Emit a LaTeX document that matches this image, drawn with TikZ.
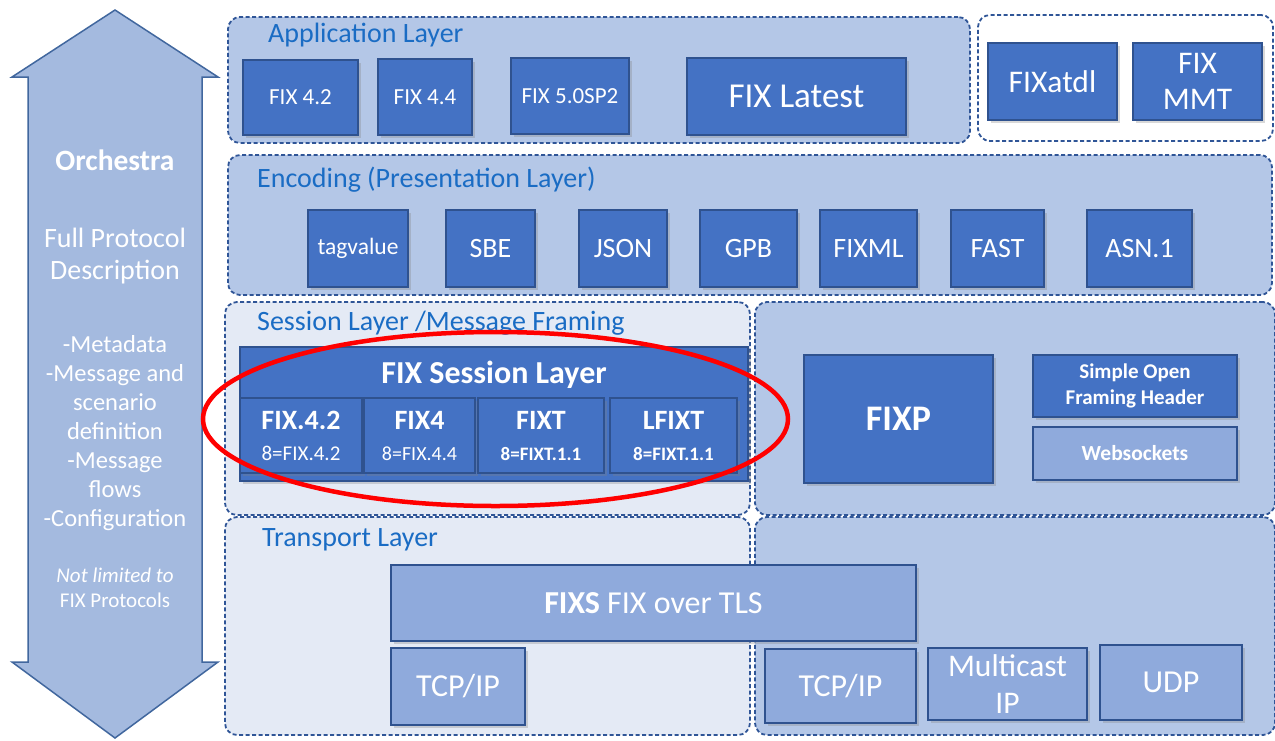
\documentclass[tikz,border=0pt]{standalone}
\usepackage{fontspec}
\setmainfont{Carlito}
\usetikzlibrary{shadows}
\usetikzlibrary{positioning}

\definecolor{boxblue}{HTML}{4472C4}
\definecolor{boxedge}{HTML}{2F528F}
\definecolor{lightbox}{HTML}{8FAADC}
\definecolor{layerfill}{HTML}{B4C7E7}
\definecolor{palefill}{HTML}{E4EAF5}
\definecolor{dashblue}{HTML}{2F5597}
\definecolor{labelblue}{HTML}{1A6CC4}
\definecolor{arrowfill}{HTML}{A4BADF}
\definecolor{arrowedge}{HTML}{41679E}

\tikzset{
	fs/.style 2 args={font=\fontsize{#1}{#2}\selectfont},
	layer/.style={draw=dashblue,dash pattern=on 4pt off 2.5pt,line width=1.8pt,rounded corners=12pt,fill=layerfill,inner sep=0pt},
	palelayer/.style={layer,fill=palefill},
	layerlabel/.style={anchor=west,text=labelblue,fs={28}{32},inner sep=0pt},
	fixbox/.style={draw=boxedge,line width=1.2pt,fill=boxblue,text=white,align=center,inner sep=0pt,
		drop shadow={shadow xshift=2.5pt,shadow yshift=-2.5pt,opacity=0.3}},
	litebox/.style={fixbox,fill=lightbox},
	orchtext/.style={text=white,align=center,inner sep=0pt}
}

\begin{document}
\begin{tikzpicture}[x=1pt,y=-1pt]
	\useasboundingbox (0,0) rectangle (1275,740);
	% orchestra arrow
	\draw[fill=arrowfill,draw=arrowedge,line width=1.5pt,line join=miter]
		(115,10) -- (218,77) -- (202,77) -- (202,662) -- (218,662) -- (115,738)
		-- (12,662) -- (28,662) -- (28,77) -- (12,77) -- cycle;
	\draw (115,160) node (orch) [orchtext,fs={29.5}{34}] {\textbf{Orchestra}};
	\draw (115,256) node (fulldesc) [orchtext,fs={28}{32}] {Full Protocol\\Description};
	\draw (115,433) node (details) [orchtext,fs={24.5}{29}] {-Metadata\\-Message and\\scenario\\definition\\-Message\\flows\\-Configuration};
	\draw (115,588) node (notfix) [orchtext,fs={21}{25}] {\itshape Not limited to\\FIX Protocols};

	% layer backgrounds
	\draw (599,80) node (applayer) [layer,minimum width=742pt,minimum height=126pt] {};
	\draw (1125.5,78) node (toolbox) [layer,fill=white,minimum width=295pt,minimum height=126pt] {};
	\draw (750,225) node (enclayer) [layer,minimum width=1044pt,minimum height=140pt] {};
	\draw (1015,408.5) node (fixpzone) [layer,minimum width=520pt,minimum height=213pt] {};
	\draw (1015,626) node (netzone) [layer,minimum width=520pt,minimum height=218pt] {};
	\draw (487.5,408.5) node (sesslayer) [palelayer,minimum width=525pt,minimum height=213pt] {};
	\draw (487.5,626) node (translayer) [palelayer,minimum width=525pt,minimum height=218pt] {};

	\node (applabel) [layerlabel] at (268,35) {Application Layer};
	\node (enclabel) [layerlabel] at (257,180) {Encoding (Presentation Layer)};
	\node (sesslabel) [layerlabel] at (257,323) {Session Layer /Message Framing};
	\node (translabel) [layerlabel] at (262,540) {Transport Layer};

	% application layer
	\draw (300.5,97.5) node (fix42) [fixbox,fs={23}{26},minimum width=115pt,minimum height=75pt] {FIX 4.2};
	\draw (425,97) node (fix44) [fixbox,fs={23}{26},minimum width=94pt,minimum height=76pt] {FIX 4.4};
	\draw (570,96) node (fix50) [fixbox,fs={23}{26},minimum width=118pt,minimum height=76pt] {FIX 5.0SP2};
	\draw (796.5,96.5) node (fixlatest) [fixbox,fs={35}{40},minimum width=219pt,minimum height=77pt] {FIX Latest};
	\draw (1052.5,81.5) node (fixatdl) [fixbox,fs={31.5}{36},minimum width=129pt,minimum height=77pt] {FIXatdl};
	\draw (1197.5,81.5) node (fixmmt) [fixbox,fs={31.5}{36},minimum width=129pt,minimum height=77pt] {FIX\\MMT};

	% encodings
	\draw (358,248.5) node (tagvalue) [fixbox,fs={23.5}{27},minimum width=100pt,minimum height=77pt] {tagvalue};
	\draw (490.5,248.5) node (sbe) [fixbox,fs={28}{32},minimum width=89pt,minimum height=77pt] {SBE};
	\draw (623,248.5) node (json) [fixbox,fs={28}{32},minimum width=88pt,minimum height=77pt] {JSON};
	\draw (748.5,248.5) node (gpb) [fixbox,fs={28}{32},minimum width=97pt,minimum height=77pt] {GPB};
	\draw (868.5,248.5) node (fixml) [fixbox,fs={28}{32},minimum width=97pt,minimum height=77pt] {FIXML};
	\draw (997.5,248.5) node (fast) [fixbox,fs={28}{32},minimum width=93pt,minimum height=77pt] {FAST};
	\draw (1139.5,248.5) node (asn) [fixbox,fs={28}{32},minimum width=105pt,minimum height=77pt] {ASN.1};

	% session layer
	\draw (494,414) node (fixsession) [fixbox,minimum width=508pt,minimum height=134pt] {};
	\draw (494,375) node (sesstitle) [text=white,fs={32}{36},inner sep=0pt] {\textbf{FIX Session Layer}};
	\draw (301,435.5) node (sfix42) [fixbox,fs={28}{31},minimum width=122pt,minimum height=75pt] {\textbf{FIX.4.2}\\{\fontsize{21}{24}\selectfont 8=FIX.4.2}};
	\draw (419.5,435.5) node (sfix4) [fixbox,fs={28}{31},minimum width=111pt,minimum height=75pt] {\textbf{FIX4}\\{\fontsize{20}{24}\selectfont 8=FIX.4.4}};
	\draw (541,435.5) node (sfixt) [fixbox,fs={28}{31},minimum width=126pt,minimum height=75pt] {\textbf{FIXT}\\{\fontsize{19}{24}\selectfont\bfseries 8=FIXT.1.1}};
	\draw (673.5,435.5) node (slfixt) [fixbox,fs={28}{31},minimum width=127pt,minimum height=75pt] {\textbf{LFIXT}\\{\fontsize{19}{24}\selectfont\bfseries 8=FIXT.1.1}};
	\draw[red,line width=4.5pt] (495.5,419) ellipse [x radius=292.5,y radius=87];

	\draw (898.5,419) node (fixp) [fixbox,fs={36}{40},minimum width=189pt,minimum height=128pt] {\textbf{FIXP}};
	\draw (1135,386) node (sofh) [fixbox,fs={21}{26},minimum width=204pt,minimum height=62pt] {\textbf{Simple Open}\\\textbf{Framing Header}};
	\draw (1135,453.5) node (websock) [litebox,fs={21.5}{25},minimum width=204pt,minimum height=53pt] {\textbf{Websockets}};

	% transport layer
	\draw (653.5,603) node (fixs) [litebox,fs={32}{36},minimum width=525pt,minimum height=76pt] {\textbf{FIXS} FIX over TLS};
	\draw (458,686.5) node (tcpleft) [litebox,fs={32}{36},minimum width=134pt,minimum height=77pt] {TCP/IP};
	\draw (840.5,686) node (tcpright) [litebox,fs={32}{36},minimum width=151pt,minimum height=74pt] {TCP/IP};
	\draw (1007.5,684) node (mcast) [litebox,fs={31.5}{37},minimum width=159pt,minimum height=72pt] {Multicast\\IP};
	\draw (1171,682.5) node (udp) [litebox,fs={32}{36},minimum width=142pt,minimum height=75pt] {UDP};
\end{tikzpicture}
\end{document}
